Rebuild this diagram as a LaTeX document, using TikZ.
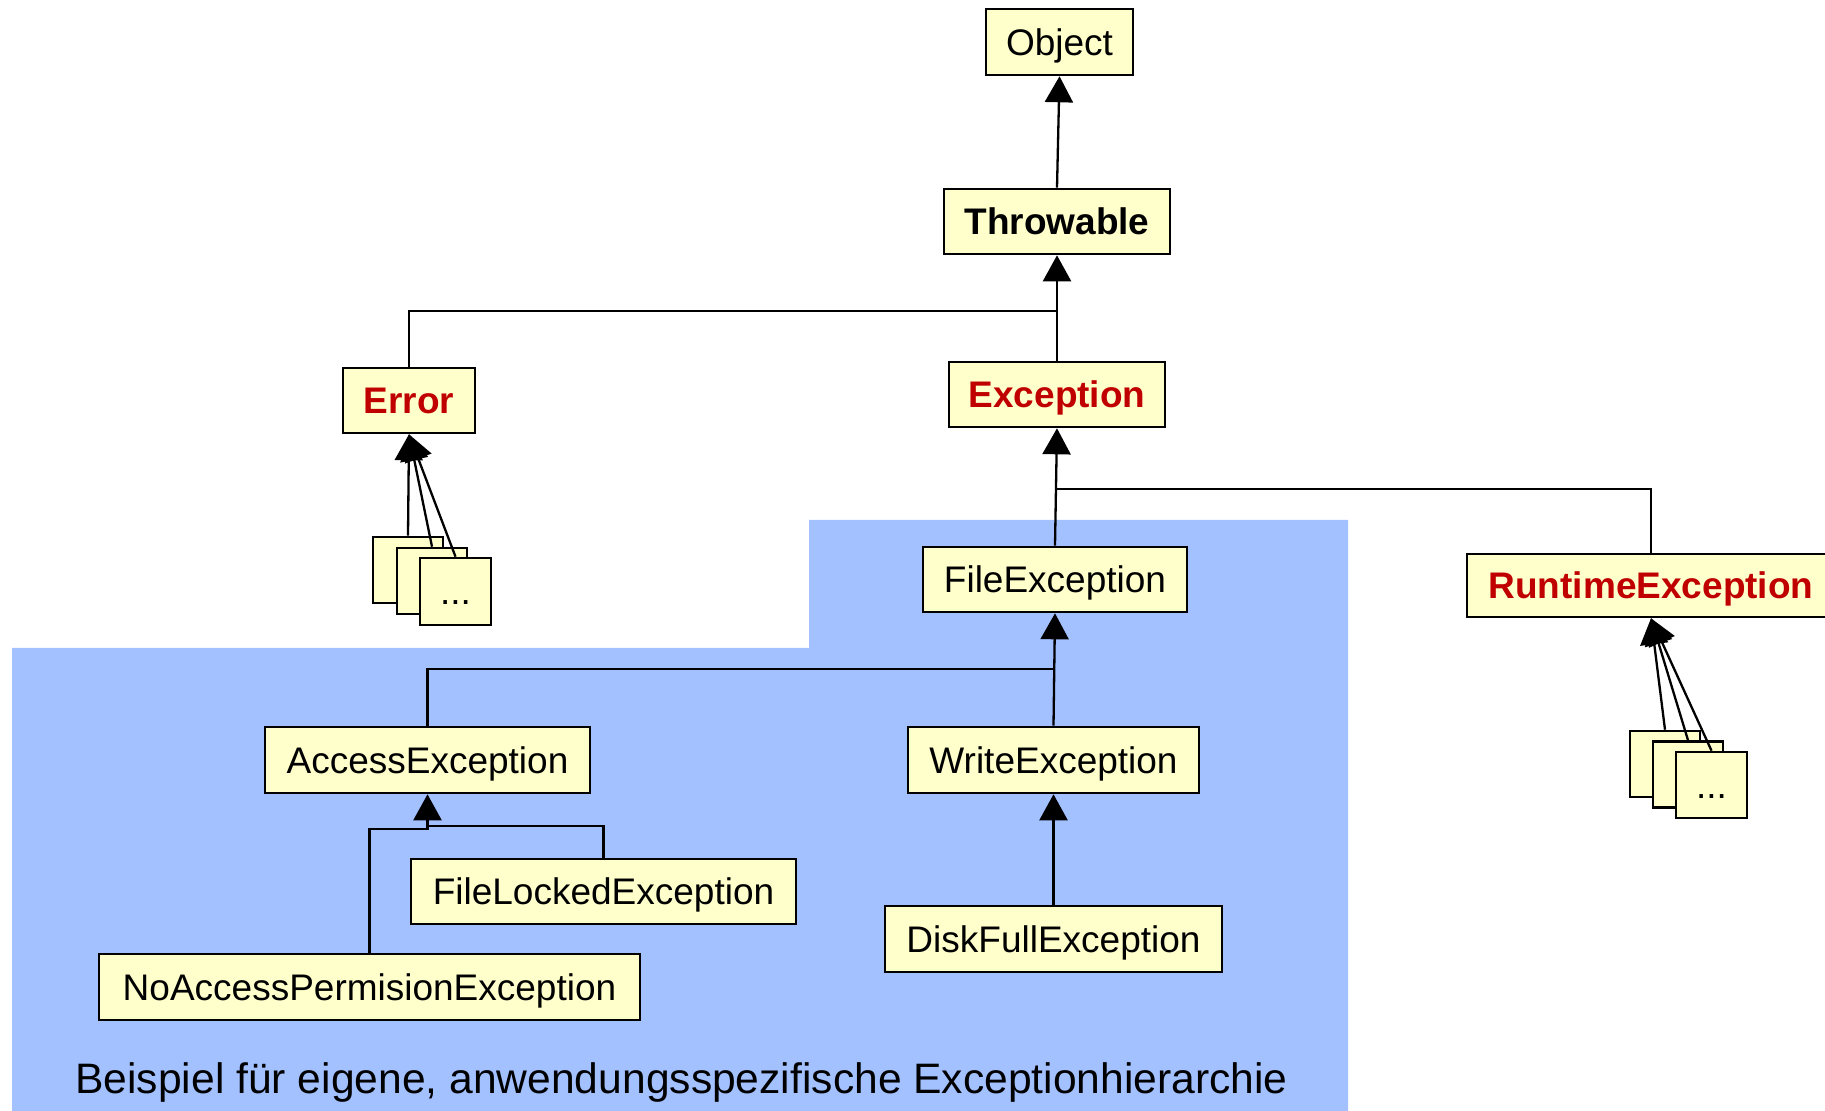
\documentclass[tikz,border=0pt]{standalone}
\usepackage{fontspec}
\setmainfont{Liberation Sans}
\usetikzlibrary{arrows.meta}
\definecolor{boxfill}{RGB}{255,255,204}
\definecolor{errred}{RGB}{192,0,0}
\definecolor{regionblue}{RGB}{163,193,255}

\begin{document}
\begin{tikzpicture}[x=0.5pt,y=-0.5pt,
  cls/.style={draw, fill=boxfill, line width=1.3pt, inner sep=0pt,
    text height=13.25pt, text depth=0pt, font=\fontsize{18.5}{22}\selectfont},
  sz/.style 2 args={minimum width=#1*0.5pt, minimum height=#2*0.5pt},
  keycls/.style={cls, font=\fontsize{18.5}{22}\selectfont\bfseries},
  redcls/.style={keycls, text=errred},
  link/.style={line width=1.15pt},
  inherit/.style={link, -{Triangle[length=13pt,width=14pt]}},
]
\useasboundingbox (0,0) rectangle (1825,1111);
\clip (0,0) rectangle (1825,1111);

% region of the application-specific hierarchy
\fill[regionblue] (12,648) -- (809,648) -- (809,520) -- (1348,520)
  -- (1348,1111) -- (12,1111) -- cycle;

% classes
\node[cls,sz={147}{66}] (obj) at (1059.5,42) {Object};
\node[keycls,sz={226}{65}] (thr) at (1057,221.5) {Throwable};
\node[redcls,sz={216}{65}] (exc) at (1057,394.5) {Exception};
\node[redcls,sz={132}{65}] (err) at (409,400.5) {Error};
\node[cls,sz={264}{65}] (fil) at (1055,579.5) {FileException};
\node[redcls,sz={368}{63}] (rt) at (1651,585.5) {RuntimeException};
\node[cls,sz={325}{66}] (acc) at (427.5,760) {AccessException};
\node[cls,sz={291}{66}] (wr) at (1053.5,760) {WriteException};
\node[cls,sz={385}{65}] (fl) at (603.5,891.5) {FileLockedException};
\node[cls,sz={337}{66}] (dk) at (1053.5,939) {DiskFullException};
\node[cls,sz={541}{66}] (na) at (369.5,987) {NoAccessPermisionException};

% further subclasses (stacked)
\node[cls,sz={70}{66}] (e1) at (408,570) {};
\node[cls,sz={70}{66}] (e2) at (432,581) {};
\node[cls,sz={71}{67}] (e3) at (455.5,591.5) {...};
\node[cls,sz={70}{66}] (r1) at (1665,764) {};
\node[cls,sz={70}{66}] (r2) at (1688,774.5) {};
\node[cls,sz={71}{66}] (r3) at (1711.5,785) {...};

% junction points
\coordinate (jthr) at (1057,311);
\coordinate (jexc) at (1057,489);
\coordinate (jfil) at (1055,669);
\coordinate (jna) at (427.5,829);
\coordinate (jfl) at (427.5,826);

% inheritance connectors
\draw[inherit] (thr.north) -- (obj.south);
\draw[inherit] (exc.north) -- (thr.south);
\draw[link] (err.north) |- (jthr);
\draw[inherit] (fil.north) -- (exc.south);
\draw[link] (rt.north) |- (jexc);
\draw[inherit] (wr.north) -- (fil.south);
\draw[link] (acc.north) |- (jfil);
\draw[inherit] (dk.north) -- (wr.south);
\draw[inherit] (na.north) |- (jna) -- (acc.south);
\draw[link] (fl.north) |- (jfl);
\foreach \n in {e1,e2,e3} \draw[inherit] (\n.north) -- (err.south);
\foreach \n in {r1,r2,r3} \draw[inherit] (\n.north) -- (rt.south);

% caption
\node[anchor=base west, inner sep=0pt, font=\fontsize{21.3}{25}\selectfont] (cap)
  at (75,1093) {Beispiel für eigene, anwendungsspezifische Exceptionhierarchie};
\end{tikzpicture}
\end{document}
